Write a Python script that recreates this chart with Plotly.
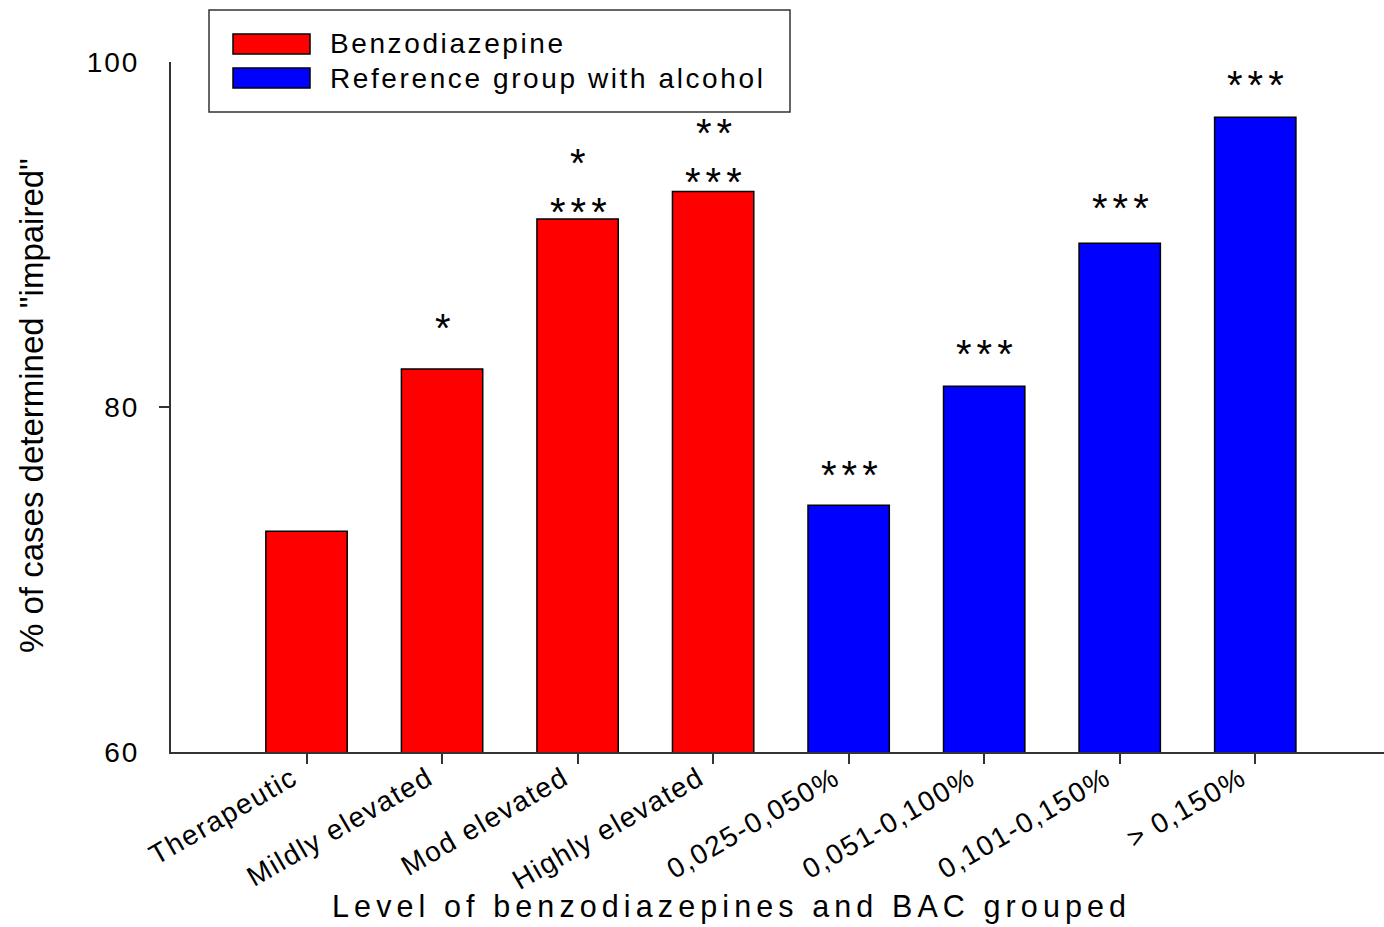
import plotly.graph_objects as go

# Categories and percentages of cases determined "impaired"
benzo_groups = ["Therapeutic", "Mildly elevated", "Mod elevated", "Highly elevated"]
benzo_values = [72.8, 82.2, 90.9, 92.5]
alcohol_groups = ["0,025-0,050%", "0,051-0,100%", "0,101-0,150%", "> 0,150%"]
alcohol_values = [74.3, 81.2, 89.5, 96.8]

# Significance markers: first row just above the bar, second row above that
sig_first = ["", "*", "***", "***", "***", "***", "***", "***"]
sig_second = ["", "", "*", "**", "", "", "", ""]

series_names = ["Benzodiazepine", "Reference group with alcohol"]
y_ticks = [60, 80, 100]

categories = benzo_groups + alcohol_groups
values = benzo_values + alcohol_values

FONT = "Liberation Sans, Arial, sans-serif"
RED = "#FF0000"
BLUE = "#0000FF"
AXIS = "#333333"

W, H = 1384, 927
L, R, T, B = 171, 1384, 62, 752


def spaced(text, px):
    return f'<span style="letter-spacing:{px}px">{text}</span>'


def paper_x(p):
    return (p - L) / (R - L)


def paper_y(p):
    return (B - p) / (B - T)


x_benzo = list(range(len(benzo_groups)))
x_alc = list(range(len(benzo_groups), len(categories)))

fig = go.Figure()
fig.add_trace(go.Bar(
    x=x_benzo, y=benzo_values, width=0.6, name=series_names[0],
    marker=dict(color=RED, line=dict(color="#000000", width=1.5)),
    showlegend=False,
))
fig.add_trace(go.Bar(
    x=x_alc, y=alcohol_values, width=0.6, name=series_names[1],
    marker=dict(color=BLUE, line=dict(color="#000000", width=1.5)),
    showlegend=False,
))

# Gap (px) between bar top and first asterisk row
first_gap = [0, 46, 12, 14, 35, 37, 40, 37]
row_step = 49
STAR_SIZE = 40
annotations = []
for i, (v, s1, s2) in enumerate(zip(values, sig_first, sig_second)):
    for s, extra in ((s1, 0), (s2, row_step)):
        if not s:
            continue
        annotations.append(dict(
            x=i, y=v, xref="x", yref="y", text=spaced(s, 5),
            showarrow=False, yanchor="middle",
            yshift=first_gap[i] + extra - 5, xshift=3,
            font=dict(family=FONT, size=STAR_SIZE, color="#000000"),
        ))

# Axis titles
annotations.append(dict(
    x=paper_x(731), y=paper_y(906), xref="paper", yref="paper",
    text=spaced("Level of benzodiazepines and BAC grouped", 5.1),
    showarrow=False, xanchor="center", yanchor="middle",
    font=dict(family=FONT, size=30.5, color="#000000"),
))
annotations.append(dict(
    x=paper_x(31), y=paper_y(406), xref="paper", yref="paper",
    text='% of cases determined "impaired"', textangle=-90,
    showarrow=False, xanchor="center", yanchor="middle",
    font=dict(family=FONT, size=33, color="#000000"),
))

# Legend box with long swatches
shapes = [
    dict(type="rect", xref="paper", yref="paper",
         x0=paper_x(209), x1=paper_x(790), y0=paper_y(112), y1=paper_y(10),
         line=dict(color=AXIS, width=1.5), fillcolor="white", layer="above"),
    dict(type="rect", xref="paper", yref="paper",
         x0=paper_x(233), x1=paper_x(310), y0=paper_y(54), y1=paper_y(34),
         line=dict(color="#000000", width=1.5), fillcolor=RED, layer="above"),
    dict(type="rect", xref="paper", yref="paper",
         x0=paper_x(233), x1=paper_x(310), y0=paper_y(88), y1=paper_y(68),
         line=dict(color="#000000", width=1.5), fillcolor=BLUE, layer="above"),
    # single y tick at 80
    dict(type="line", xref="paper", yref="y", xsizemode="pixel", xanchor=0,
         x0=-12, x1=0, y0=80, y1=80, line=dict(color=AXIS, width=2)),
]
for name, yc in zip(series_names, [44, 78]):
    annotations.append(dict(
        x=paper_x(328), y=paper_y(yc), xref="paper", yref="paper",
        text=spaced(name, 2.6), showarrow=False, xanchor="left",
        yanchor="middle", font=dict(family=FONT, size=28, color="#000000"),
    ))

fig.update_layout(
    width=W, height=H,
    margin=dict(l=L, r=W - R, t=T, b=H - B, pad=0),
    paper_bgcolor="white", plot_bgcolor="white",
    font=dict(family=FONT, color="#000000"),
    annotations=annotations, shapes=shapes,
    bargap=0.4,
)
fig.update_xaxes(
    range=[-1, 7.95], tickmode="array",
    tickvals=list(range(len(categories))),
    ticktext=[spaced(c, 1.6) for c in categories],
    tickangle=-30, tickfont=dict(family=FONT, size=28, color="#000000"),
    ticks="outside", ticklen=10, tickwidth=2, tickcolor=AXIS,
    ticklabelstandoff=-13, ticklabelshift=-14,
    showline=True, linecolor=AXIS, linewidth=2,
    showgrid=False, zeroline=False, fixedrange=True,
)
fig.update_yaxes(
    range=[60, 100], tickmode="array", tickvals=y_ticks,
    ticktext=[spaced(str(t), 2) for t in y_ticks],
    tickfont=dict(family=FONT, size=28, color="#000000"),
    ticks="", ticklabelstandoff=24,
    showline=True, linecolor=AXIS, linewidth=2,
    showgrid=False, zeroline=False, fixedrange=True,
)

fig.write_html("out.html")
